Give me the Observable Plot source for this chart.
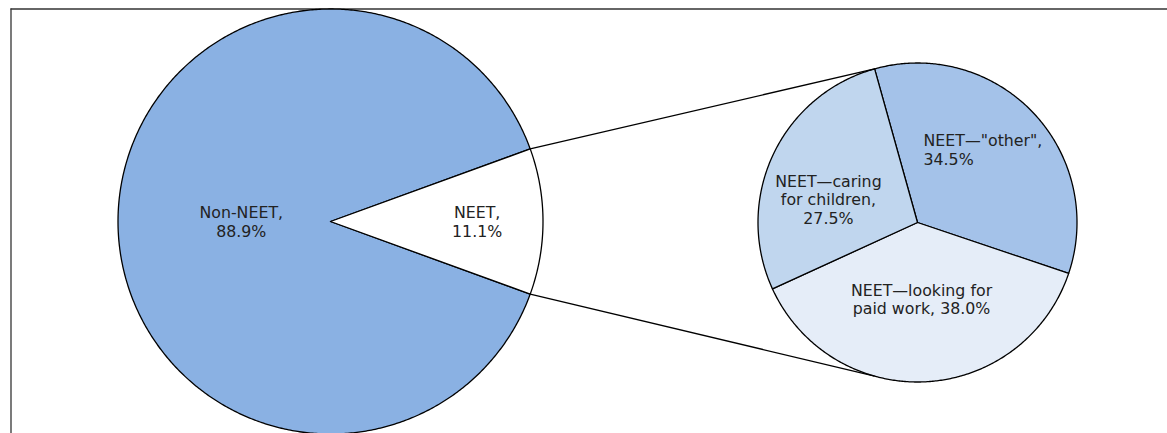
<!DOCTYPE html>
<html>
<head>
<meta charset="utf-8">
<script src="https://cdn.jsdelivr.net/npm/d3@7"></script>
<script src="https://cdn.jsdelivr.net/npm/@observablehq/plot@0.6"></script>
<style>
  html, body { margin: 0; padding: 0; background: #fff; }
  #chart svg { display: block; }
</style>
</head>
<body>
<div id="chart"></div>
<script>
// Primary pie: young people split into NEET and non-NEET
const mainLabels = ["Non-NEET,\n88.9%", "NEET,\n11.1%"];
const mainValues = [88.9, 11.1];

// Secondary pie: breakdown of the NEET group (clockwise from the top connector)
const subKeys = ["other", "looking", "caring"];
const subLabels = ["NEET\u2014\"other\",\n34.5%", "NEET\u2014looking for\npaid work, 38.0%", "NEET\u2014caring\nfor children,\n27.5%"];
const subValues = [34.5, 38.0, 27.5];

// Layout and style
const W = 1167, H = 433;
const big = {cx: 330, cy: 221, r: 212.5};
const small = {cx: 917, cy: 222, r: 159.5};
const subStart = -15.6; // degrees clockwise from 12 o'clock
const mainFill = ["#8AB1E3", "#FFFFFF"];
const subFill = ["#A4C2E9", "#E5EDF8", "#C0D6EE"];
// label placement: fraction of radius, and angular nudge from the wedge mid-angle
const labelRadius = {main: [0.42, 0.69], sub: [0.61, 0.48, 0.577]};
const labelTurn = {main: [0, 0], sub: [-5, 0, -10.4]};

const rad = Math.PI / 180;
const pt = (c, a, k = 1) => ({x: c.cx + k * c.r * Math.sin(a * rad), y: c.cy - k * c.r * Math.cos(a * rad)});

// Sample a wedge as a closed polygon (centre + arc)
function wedge(c, a0, a1, key, fill) {
  const pts = [{x: c.cx, y: c.cy, key, fill}];
  const n = Math.max(2, Math.ceil((a1 - a0) / 0.5));
  for (let i = 0; i <= n; ++i) {
    const p = pt(c, a0 + (a1 - a0) * i / n);
    pts.push({...p, key, fill});
  }
  return pts;
}

// Main pie angles: NEET wedge centred on 3 o'clock, facing the secondary pie
const mainTotal = d3.sum(mainValues);
const neetSpan = mainValues[1] / mainTotal * 360;
const mainArcs = [
  {a0: 90 + neetSpan / 2, a1: 450 - neetSpan / 2},
  {a0: 90 - neetSpan / 2, a1: 90 + neetSpan / 2}
];

const subTotal = d3.sum(subValues);
let acc = subStart;
const subArcs = subValues.map(v => {
  const a0 = acc; acc += v / subTotal * 360;
  return {a0, a1: acc};
});

const polys = [
  ...mainArcs.flatMap((a, i) => wedge(big, a.a0, a.a1, "m" + i, mainFill[i])),
  ...subArcs.flatMap((a, i) => wedge(small, a.a0, a.a1, subKeys[i], subFill[i]))
];

// Label anchors along each wedge's (nudged) mid-angle
const labels = [
  ...mainArcs.map((a, i) => ({...pt(big, (a.a0 + a.a1) / 2 + labelTurn.main[i], labelRadius.main[i]), text: mainLabels[i], anchor: "middle"})),
  ...subArcs.map((a, i) => ({...pt(small, (a.a0 + a.a1) / 2 + labelTurn.sub[i], labelRadius.sub[i]), text: subLabels[i], anchor: i === 0 ? "start" : "middle"}))
];

// Connector lines from the NEET wedge edges to the secondary pie
const topEnd = pt(small, subStart);
const botEnd = pt(small, 180 - subStart);
const topStart = pt(big, 90 - neetSpan / 2);
const botStart = pt(big, 90 + neetSpan / 2);
const connectors = [
  {x1: topStart.x, y1: topStart.y, x2: topEnd.x, y2: topEnd.y},
  {x1: botStart.x, y1: botStart.y, x2: botEnd.x, y2: botEnd.y}
];

const font = "'DejaVu Sans', Verdana, sans-serif";
const fontSize = 15.8;

const chart = Plot.plot({
  width: W,
  height: H,
  margin: 0,
  x: {domain: [0, W], range: [0, W], axis: null},
  y: {domain: [0, H], range: [0, H], axis: null},
  color: {type: "identity"},
  style: {fontFamily: font, background: "#fff"},
  marks: [
    Plot.ruleY([8.5], {x1: 10.5, x2: W, stroke: "#333", strokeWidth: 1.3}),
    Plot.ruleX([10.5], {y1: 8.5, y2: H, stroke: "#333", strokeWidth: 1.3}),
    Plot.line(polys, {x: "x", y: "y", z: "key", fill: "fill", stroke: "#000", strokeWidth: 1.3, curve: "linear-closed", strokeLinejoin: "round"}),
    Plot.link(connectors, {x1: "x1", y1: "y1", x2: "x2", y2: "y2", stroke: "#000", strokeWidth: 1.3}),
    Plot.text(labels.filter(d => d.anchor === "middle"), {x: "x", y: "y", text: "text", fill: "#222", fontSize, lineHeight: 1.17, textAnchor: "middle"}),
    Plot.text(labels.filter(d => d.anchor === "start"), {x: "x", y: "y", text: "text", fill: "#222", fontSize, lineHeight: 1.17, textAnchor: "start", dx: -58.5})
  ]
});

document.getElementById("chart").append(chart);
</script>
</body>
</html>
